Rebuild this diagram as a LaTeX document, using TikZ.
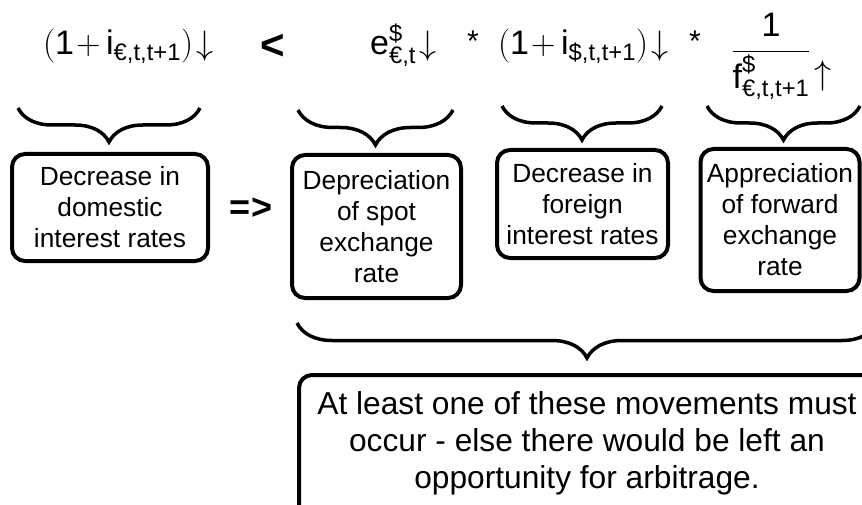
\RequirePackage{fix-cm}
\documentclass[tikz,border=0pt]{standalone}
\usepackage{amsmath}
\usepackage{fontspec}
\setmainfont{Liberation Sans}
\usetikzlibrary{decorations.pathreplacing}
\newcommand{\pl}{\mkern-3mu+\mkern-1mu}
\begin{document}
\begin{tikzpicture}[x=1pt, y=-1pt,
	box/.style = {draw, line width=4pt, rounded corners=13pt, align=center, inner sep=0pt, font=\fontsize{26.3}{31}\selectfont},
	curly/.style = {decorate, decoration={brace, mirror, amplitude=#1}, line width=3.5pt},
	eq/.style = {inner sep=0pt, font=\fontsize{34}{40}\selectfont}]
	\useasboundingbox (0,0) rectangle (862,505);
	\begin{scope}
		\clip (0,0) rectangle (862,505);
		% equation
		\node[eq, anchor=base west] (dom) at (43,55) {$(\text{1}\pl\text{i}_{\text{€,t,t+1}})\mkern2mu{\downarrow}$};
		\node[eq, font=\fontsize{42}{42}\bfseries] (lt) at (273,47) {<};
		\node[eq, anchor=base west] (spot) at (370,55) {$\text{e}^{\text{\$}}_{\text{€,t}}\mkern2mu{\downarrow}$};
		\node[eq, font=\fontsize{30}{30}\selectfont] (st1) at (473,41) {*};
		\node[eq, anchor=base west] (forn) at (498,55) {$(\text{1}\pl\text{i}_{\text{\$,t,t+1}})\mkern2mu{\downarrow}$};
		\node[eq, font=\fontsize{30}{30}\selectfont] (st2) at (695,41) {*};
		\node[eq, anchor=base] (fwd) at (771,60) {$\dfrac{\text{1}}{\text{f}^{\text{\$}}_{\text{€,t,t+1}}}$};
		\node[eq] (up) at (823,76) {$\uparrow$};
		% braces
		\coordinate (b1a) at (18,108);  \coordinate (b1b) at (200,108);
		\coordinate (b2a) at (298,110); \coordinate (b2b) at (453,110);
		\coordinate (b3a) at (502,106); \coordinate (b3b) at (662,106);
		\coordinate (b4a) at (707,106); \coordinate (b4b) at (860,106);
		\coordinate (b5a) at (297,323); \coordinate (b5b) at (877,323);
		\draw[curly=34pt] (b1a) -- (b1b);
		\draw[curly=35pt] (b2a) -- (b2b);
		\draw[curly=34pt] (b3a) -- (b3b);
		\draw[curly=34pt] (b4a) -- (b4b);
		\draw[curly=35pt] (b5a) -- (b5b);
		% boxes
		\node[box, minimum width=196pt, minimum height=107pt] (domtxt) at (110,207.5) {Decrease in\\domestic\\interest rates};
		\node[font=\fontsize{36}{36}\bfseries, inner sep=0pt] (impl) at (251,209) {=>};
		\node[box, minimum width=169pt, minimum height=143pt] (spottxt) at (376.5,226.5) {Depreciation\\of spot\\exchange\\rate};
		\node[box, minimum width=171pt, minimum height=108pt] (forntxt) at (582.5,204) {Decrease in\\foreign\\interest rates};
		\node[box, minimum width=159pt, minimum height=142pt] (fwdtxt) at (780,220) {Appreciation\\of forward\\exchange\\rate};
		% note, its frame runs past the edge
		\draw[line width=4pt, rounded corners=13pt] (299,375) rectangle (920,540);
		\node[align=center, inner sep=0pt, font=\fontsize{31.7}{37}\selectfont] (note) at (587,443) {At least one of these movements must\\occur - else there would be left an\\opportunity for arbitrage.};
	\end{scope}
\end{tikzpicture}
\end{document}
